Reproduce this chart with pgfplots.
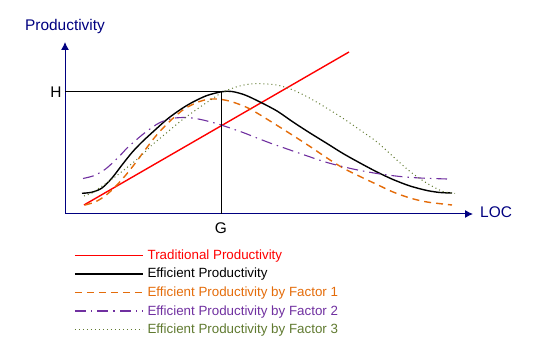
\documentclass[border=0pt]{standalone}
\usepackage{pgfplots}
\pgfplotsset{compat=1.18}
\usepackage{fontspec}
\setmainfont{Liberation Sans}
\usetikzlibrary{arrows.meta}
\definecolor{navyax}{RGB}{0,0,128}
\definecolor{fone}{RGB}{228,108,10}
\definecolor{ftwo}{RGB}{112,48,160}
\definecolor{fthree}{RGB}{96,122,48}
\begin{document}
\begin{tikzpicture}
\begin{axis}[
  scale only axis, width=537bp, height=355bp,
  xmin=0, xmax=537, ymin=0, ymax=355,
  axis lines=none, clip=false,
  legend cell align=left,
  legend style={at={(axis cs:71,108.5)}, anchor=north west, draw=none, fill=none,
    font=\fontsize{13.4}{15}\selectfont, row sep=5.4bp,
    nodes={inner sep=1bp}},
  legend image code/.code={\draw[#1] (0bp,0bp) -- (68bp,0bp); \path (71bp,0bp);},
]
\path (axis cs:0,0) (axis cs:537,355);
\addplot[red, line width=1.4bp] coordinates {(84,150) (349,303)};
\addlegendentry{\textcolor{red}{Traditional Productivity}}
\addplot[black, line width=1.4bp, smooth] coordinates {
(82,161.7) (92,162.8) (102,167) (112,177) (122,190) (132,202.5) (142,213) (155,225)
(168,236.5) (182,246.5) (193,253) (207,259.5) (222,263.3) (232,263.5) (245,260)
(260,253) (277,244) (293,233) (310,222) (327,211.5) (343,201.5) (360,192)
(377,183) (393,175.5) (410,169) (427,164.5) (440,162.5) (452,162)};
\addlegendentry{Efficient Productivity}
\addplot[fone, line width=1.4bp, dash pattern=on 7bp off 5bp, smooth] coordinates {
(85,150) (95,153) (105,159) (115,168) (125,179) (135,191.5) (145,205) (155,218)
(165,229) (175,238.5) (185,246.5) (197,252.5) (207,255.5) (217,256) (227,254.5)
(237,251.5) (247,247.5) (257,242) (270,234) (278,229) (293,219.5) (310,208.5)
(327,197) (343,187) (360,178.5) (377,170.5) (393,163) (410,157) (427,153) (452,150)};
\addlegendentry{\textcolor{fone}{Efficient Productivity by Factor 1}}
\addplot[ftwo, line width=1.1bp, dash pattern=on 11bp off 5bp on 1.5bp off 5bp, smooth] coordinates {
(83,176.5) (93,179) (102,183.5) (108,188) (115,194.5) (122,201.5) (128,208)
(135,214) (142,220) (152,227.5) (160,232.5) (172,236.5) (183,237.5) (192,237)
(203,235) (218,231) (230,227) (243,222.5) (257,217) (270,212) (280,208.5)
(303,200.5) (327,192.5) (353,186) (377,181.5) (400,178.5) (420,177) (447,176)};
\addlegendentry{\textcolor{ftwo}{Efficient Productivity by Factor 2}}
\addplot[fthree, line width=1bp, dash pattern=on 1bp off 3bp, smooth] coordinates {
(84,159) (92,162) (100,167.5) (111,175) (122,183.5) (132,191.5) (142,200)
(152,210) (162,218.3) (172,226.7) (182,235) (193,243) (203,250) (213,256.7)
(223,263) (237,268.3) (250,271) (263,271.2) (277,270) (293,265) (310,256.7)
(327,246.7) (343,236.7) (360,225) (377,213) (393,198.5) (410,183.5) (427,171.7)
(443,163.5) (455,161.7)};
\addlegendentry{\textcolor{fthree}{Efficient Productivity by Factor 3}}
% axes and guide lines
\draw[navyax, line width=1bp, -{Latex[length=8bp,width=8bp]}] (axis cs:65,141) -- (axis cs:65,313);
\draw[navyax, line width=1bp, -{Latex[length=8bp,width=8bp]}] (axis cs:65,141) -- (axis cs:473,141);
\draw[black, line width=0.8bp] (axis cs:65,263.3) -- (axis cs:221,263.3);
\draw[black, line width=0.8bp] (axis cs:221,141) -- (axis cs:221,263.3);
\node[navyax, font=\fontsize{15.5}{17}\selectfont, anchor=center] at (axis cs:65,328) {Productivity};
\node[font=\fontsize{15.5}{17}\selectfont, anchor=center] at (axis cs:56,263.3) {H};
\node[font=\fontsize{15.5}{17}\selectfont, anchor=center] at (axis cs:221,127) {G};
\node[navyax, font=\fontsize{15.5}{17}\selectfont, anchor=west, inner sep=0pt] at (axis cs:480,142.5) {LOC};
\end{axis}
\end{tikzpicture}
\end{document}
